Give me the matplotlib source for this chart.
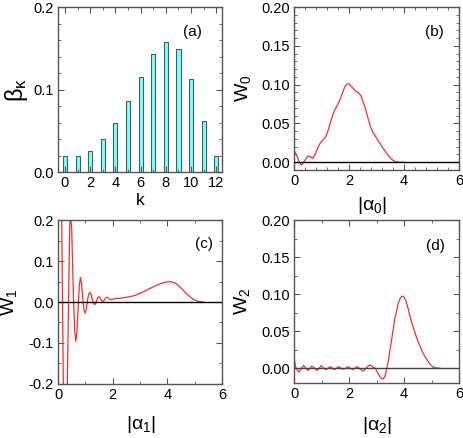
import numpy as np
import matplotlib
matplotlib.use('Agg')
from matplotlib import pyplot as plt
from matplotlib.ticker import MultipleLocator

plt.rcParams['font.family'] = ['Liberation Sans', 'DejaVu Sans']
plt.rcParams['mathtext.fontset'] = 'custom'
plt.rcParams['mathtext.rm'] = 'Liberation Sans'
plt.rcParams['axes.unicode_minus'] = False

# (a) distribution beta_k
k_vals = [0, 1, 2, 3, 4, 5, 6, 7, 8, 9, 10, 11, 12]
beta_k = [0.019, 0.019, 0.026, 0.040, 0.0595, 0.0855, 0.115, 0.143, 0.157, 0.1485, 0.113, 0.062, 0.019]

# (b) W0 vs |alpha0|
b_x = [0.0, 0.1, 0.18, 0.27, 0.37, 0.5, 0.6, 0.68, 0.78, 0.88, 0.98, 1.07, 1.17, 1.25, 1.32,
       1.44, 1.55, 1.63, 1.72, 1.81, 1.88, 1.94, 2.0, 2.1, 2.2, 2.28, 2.36, 2.43, 2.5, 2.59,
       2.68, 2.77, 2.86, 2.95, 3.04, 3.13, 3.22, 3.31, 3.4, 3.49, 3.58, 3.67, 3.76, 3.85, 4.0]
b_y = [0.015, 0.009, 0.001, -0.004, 0.001, 0.008, 0.007, 0.005, 0.011, 0.02, 0.026, 0.029, 0.034, 0.042, 0.051,
       0.064, 0.072, 0.077, 0.085, 0.094, 0.099, 0.101, 0.101, 0.097, 0.093, 0.091, 0.089, 0.086, 0.079, 0.07,
       0.058, 0.047, 0.039, 0.034, 0.029, 0.024, 0.019, 0.0145, 0.01, 0.006, 0.003, 0.001, 0.0003, 0.0, 0.0]

# (c) W1 vs |alpha1|
c_x = [0.0, 0.06, 0.1, 0.135, 0.165, 0.195, 0.23, 0.27, 0.30, 0.34,
       0.385, 0.43, 0.46, 0.5, 0.535, 0.57, 0.61, 0.65, 0.69, 0.74,
       0.78, 0.82, 0.86, 0.91, 0.955, 1.0, 1.04, 1.08, 1.12, 1.17,
       1.21, 1.25, 1.3, 1.34, 1.38, 1.42, 1.46, 1.49, 1.53, 1.57,
       1.61, 1.65, 1.69, 1.72, 1.76, 1.8, 1.84, 1.88, 1.92, 1.96,
       2.05, 2.14, 2.27, 2.45, 2.63, 2.82, 3.0, 3.19, 3.37, 3.55,
       3.73, 3.9, 4.1, 4.22, 4.34, 4.46, 4.58, 4.7, 4.83, 4.95,
       5.07, 5.2, 5.32]
c_y = [0.9, 0.6, 0.35, 0.2, 0.0, -0.2, -0.4, -0.47, -0.42, -0.2,
       0.0, 0.19, 0.21, 0.18, 0.09, 0.0, -0.07, -0.096, -0.075, -0.01,
       0.04, 0.06, 0.045, 0.005, -0.022, -0.027, -0.015, 0.005, 0.019, 0.0236,
       0.018, 0.007, -0.003, -0.0065, -0.003, 0.005, 0.011, 0.013, 0.011, 0.006,
       0.002, 0.0016, 0.004, 0.008, 0.0105, 0.0114, 0.01, 0.007, 0.0058, 0.0057,
       0.0075, 0.009, 0.009, 0.011, 0.013, 0.016, 0.021, 0.027, 0.033, 0.039,
       0.044, 0.048, 0.0496, 0.048, 0.044, 0.037, 0.029, 0.02, 0.013, 0.0065,
       0.0024, 0.0006, 0.0]

# (d) W2 vs |alpha2|
d_x = [0.0, 0.07, 0.17, 0.26, 0.35, 0.43, 0.51, 0.58, 0.65, 0.75, 0.84, 0.92, 0.99, 1.08, 1.16,
       1.24, 1.32, 1.4, 1.47, 1.55, 1.62, 1.71, 1.79, 1.88, 1.96, 2.05, 2.13, 2.21, 2.29, 2.4,
       2.5, 2.62, 2.74, 2.85, 2.95, 3.07, 3.15, 3.22, 3.28, 3.33, 3.43, 3.55, 3.67, 3.79, 3.87,
       3.94, 4.0, 4.07, 4.14, 4.22, 4.31, 4.4, 4.49, 4.58, 4.67, 4.76, 4.86, 4.95, 5.04, 5.13, 5.3]
d_y = [0.014, 0.0, -0.0053, -0.001, 0.0036, 0.0, -0.003, 0.0, 0.0027, 0.0, -0.003, 0.0, 0.0036, 0.0, -0.002,
       0.0, 0.002, 0.0, -0.002, 0.0, 0.002, 0.0, -0.0015, 0.0, 0.002, 0.0, -0.002, 0.0, 0.002, -0.001,
       -0.004, 0.0, 0.0044, 0.002, 0.0, -0.008, -0.013, -0.0147, -0.013, -0.008, 0.0098, 0.0387, 0.0676, 0.0876, 0.095,
       0.0973, 0.096, 0.091, 0.082, 0.0698, 0.058, 0.0476, 0.038, 0.0298, 0.022, 0.0156, 0.01, 0.0053, 0.002, 0.0004, 0.0]

red = '#ff2a2a'
spine_col = '#555555'

fig = plt.figure(figsize=(4.63, 4.38), dpi=100)
ax_a = fig.add_axes([0.1253, 0.6073, 0.3542, 0.3767])
ax_b = fig.add_axes([0.635, 0.6119, 0.3564, 0.3721])
ax_c = fig.add_axes([0.1253, 0.1233, 0.3542, 0.3744])
ax_d = fig.add_axes([0.635, 0.1256, 0.3564, 0.3721])


def style(ax):
    ax.tick_params(which='both', direction='in', top=True, right=True,
                   labelsize=10.5, color=spine_col, pad=3)
    ax.tick_params(which='major', length=4, width=0.8)
    ax.tick_params(which='minor', length=2, width=0.6)
    for s in ax.spines.values():
        s.set_color(spine_col)
        s.set_linewidth(1.0)


# (a)
ax_a.bar(k_vals, beta_k, width=0.32, color='#80ffff', edgecolor='#406060', linewidth=0.8)
ax_a.set_xlim(-0.55, 12.45)
ax_a.set_ylim(0, 0.2)
ax_a.xaxis.set_major_locator(MultipleLocator(2))
ax_a.xaxis.set_minor_locator(MultipleLocator(1))
ax_a.yaxis.set_major_locator(MultipleLocator(0.1))
ax_a.yaxis.set_minor_locator(MultipleLocator(0.02))
style(ax_a)
ax_a.text(0.82, 0.85, '(a)', transform=ax_a.transAxes, ha='center', va='center', fontsize=11)
ax_a.text(-0.255, 0.5, r'$\mathregular{\beta_\kappa}$', transform=ax_a.transAxes,
          rotation=90, ha='center', va='center', fontsize=17)
ax_a.text(0.5, -0.17, 'k', transform=ax_a.transAxes, ha='center', va='center', fontsize=12.5)

# (b)
ax_b.plot(b_x, b_y, color=red, lw=0.9)
ax_b.axhline(0, color='black', lw=1.0, zorder=3)
ax_b.set_xlim(0, 6)
ax_b.set_ylim(-0.01, 0.2)
ax_b.xaxis.set_major_locator(MultipleLocator(2))
ax_b.xaxis.set_minor_locator(MultipleLocator(0.4))
ax_b.yaxis.set_major_locator(MultipleLocator(0.05))
ax_b.yaxis.set_minor_locator(MultipleLocator(0.01))
ax_b.yaxis.set_major_formatter(matplotlib.ticker.FormatStrFormatter('%.2f'))
style(ax_b)
ax_b.text(0.85, 0.847, '(b)', transform=ax_b.transAxes, ha='center', va='center', fontsize=11)
ax_b.text(-0.31, 0.5, r'$\mathregular{W_0}$', transform=ax_b.transAxes,
          rotation=90, ha='center', va='center', fontsize=14)
ax_b.text(0.473, -0.215, r'$\mathregular{|\alpha_0|}$', transform=ax_b.transAxes,
          ha='center', va='center', fontsize=14)

# (c)
ax_c.plot(c_x, c_y, color=red, lw=0.9)
ax_c.axhline(0, color='black', lw=1.0, zorder=3)
ax_c.set_xlim(0, 6)
ax_c.set_ylim(-0.2, 0.2)
ax_c.xaxis.set_major_locator(MultipleLocator(2))
ax_c.xaxis.set_minor_locator(MultipleLocator(1))
ax_c.yaxis.set_major_locator(MultipleLocator(0.1))
ax_c.yaxis.set_minor_locator(MultipleLocator(0.05))
style(ax_c)
ax_c.text(0.89, 0.854, '(c)', transform=ax_c.transAxes, ha='center', va='center', fontsize=11)
ax_c.text(-0.30, 0.5, r'$\mathregular{W_1}$', transform=ax_c.transAxes,
          rotation=90, ha='center', va='center', fontsize=14)
ax_c.text(0.503, -0.25, r'$\mathregular{|\alpha_1|}$', transform=ax_c.transAxes,
          ha='center', va='center', fontsize=14)

# (d)
ax_d.plot(d_x, d_y, color=red, lw=0.9)
ax_d.axhline(0, color='#444444', lw=1.0, zorder=3)
ax_d.set_xlim(0, 6)
ax_d.set_ylim(-0.02, 0.2)
ax_d.xaxis.set_major_locator(MultipleLocator(2))
ax_d.xaxis.set_minor_locator(MultipleLocator(1))
ax_d.yaxis.set_major_locator(MultipleLocator(0.05))
ax_d.yaxis.set_minor_locator(MultipleLocator(0.025))
ax_d.yaxis.set_major_formatter(matplotlib.ticker.FormatStrFormatter('%.2f'))
style(ax_d)
ax_d.text(0.86, 0.842, '(d)', transform=ax_d.transAxes, ha='center', va='center', fontsize=11)
ax_d.text(-0.315, 0.5, r'$\mathregular{W_2}$', transform=ax_d.transAxes,
          rotation=90, ha='center', va='center', fontsize=14)
ax_d.text(0.5, -0.258, r'$\mathregular{|\alpha_2|}$', transform=ax_d.transAxes,
          ha='center', va='center', fontsize=14)

fig.savefig('out.png', dpi=100)
